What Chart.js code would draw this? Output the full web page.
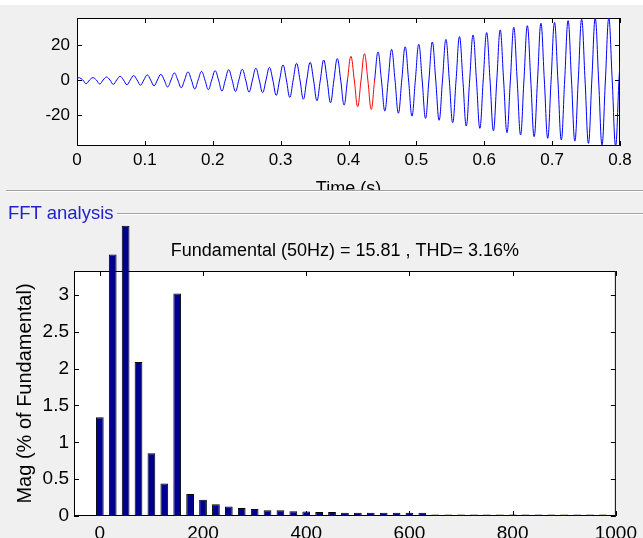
<!DOCTYPE html>
<html>
<head>
<meta charset="utf-8">
<script src="https://cdn.jsdelivr.net/npm/chart.js@4.4.1/dist/chart.umd.min.js"></script>
<style>
  body { margin: 0; background: #f0f0f0; width: 643px; height: 538px; overflow: hidden; position: relative; font-family: "Liberation Sans", Arial, sans-serif; }
  .abs { position: absolute; }
  .etch { position: absolute; height: 0; border-top: 1px solid #a0a0a0; border-bottom: 1px solid #ffffff; }
</style>
</head>
<body>
<div class="abs" style="left:0;top:0;width:643px;height:5px;background:#fff"></div>
<div class="abs" style="left:0;top:0;width:643px;height:190px;overflow:hidden">
  <canvas id="signal" width="643" height="200"></canvas>
</div>
<div class="etch" style="left:6px;top:190px;width:637px"></div>
<div class="abs" style="left:0;top:192px;width:643px;height:346px;overflow:hidden">
  <canvas id="fft" width="643" height="346"></canvas>
</div>
<div class="abs" style="left:8px;top:203px;font-size:18.5px;color:#2222cc;line-height:20px">FFT analysis</div>
<div class="etch" style="left:117px;top:213px;width:526px"></div>

<script>
// selected signal: positive and negative peak of each 50 Hz cycle
const peakVals = [1.3, 1.3, 1.7, 2.1, 2.5, 2.9, 3.2, 4.0, 4.6, 4.9,
  5.3, 5.9, 6.1, 6.7, 7.2, 8.6, 9.5, 10.1, 11.4, 12.2,
  13.5, 15.0, 16.0, 17.5, 19.0, 20.4, 21.7, 23.2, 24.8, 25.7,
  27.1, 28.6, 30.1, 31.0, 32.4, 32.9, 33.9, 34.7, 35.2, 35.4];
const troughVals = [-2.1, -2.3, -2.5, -2.7, -3.0, -3.3, -4.0, -4.4, -5.1, -5.5,
  -6.3, -6.5, -6.9, -7.2, -8.8, -9.9, -11.0, -11.8, -13.0, -14.3,
  -15.2, -16.8, -17.7, -19.0, -20.6, -21.9, -23.0, -24.4, -26.3, -27.6,
  -29.0, -30.1, -31.4, -32.4, -33.3, -34.3, -34.9, -36.2, -37.1, -37.7];
const startVal = 1.0;
const endVal = 10;
const fftWindow = [0.4, 0.44];   // red part
const timeTicks = [0, 0.1, 0.2, 0.3, 0.4, 0.5, 0.6, 0.7, 0.8];
const signalTicks = [-20, 0, 20];

// harmonic spectrum
const harmFreqs = [0, 25, 50, 75, 100, 125, 150, 175, 200, 225,
  250, 275, 300, 325, 350, 375, 400, 425, 450, 475,
  500, 525, 550, 575, 600, 625, 650, 675, 700, 725,
  750, 775, 800, 825, 850, 875, 900, 925, 950, 975];
const harmMags = [1.34, 3.55, 3.94, 2.09, 0.85, 0.44, 3.02, 0.30, 0.22, 0.16,
  0.13, 0.11, 0.095, 0.078, 0.078, 0.064, 0.06, 0.055, 0.055, 0.045,
  0.045, 0.045, 0.045, 0.045, 0.045, 0.045, 0.02, 0.02, 0.02, 0.02,
  0.02, 0.02, 0.02, 0.02, 0.02, 0.02, 0.02, 0.02, 0.02, 0.02];
const freqTicks = [0, 200, 400, 600, 800, 1000];
const magTicks = [0, 0.5, 1, 1.5, 2, 2.5, 3];

// one point at each peak, zero crossing and trough
const period = 0.02;
const sigPoints = [{ x: 0, y: startVal }];
peakVals.forEach((p, k) => {
  const t0 = k * period;
  sigPoints.push({ x: t0 + 0.0035, y: p });
  sigPoints.push({ x: t0 + 0.0085, y: 0 });
  sigPoints.push({ x: t0 + 0.0135, y: troughVals[k] });
  sigPoints.push({ x: t0 + 0.0185, y: 0 });
});
sigPoints.push({ x: 0.8, y: endVal });

// white plot area, black box and inward ticks (matlab look)
const axesBox = {
  id: 'axesBox',
  beforeDatasetsDraw(chart) {
    const { ctx, chartArea: a, scales } = chart;
    ctx.save();
    ctx.fillStyle = '#fff';
    ctx.fillRect(a.left, a.top, a.right - a.left, a.bottom - a.top);
    ctx.strokeStyle = '#000';
    ctx.lineWidth = 1;
    ctx.strokeRect(a.left + 0.5, a.top + 0.5, a.right - a.left - 1, a.bottom - a.top - 1);
    ctx.beginPath();
    scales.x.ticks.forEach(t => {
      const px = Math.round(scales.x.getPixelForValue(t.value)) + 0.5;
      ctx.moveTo(px, a.bottom); ctx.lineTo(px, a.bottom - 5);
      ctx.moveTo(px, a.top); ctx.lineTo(px, a.top + 5);
    });
    scales.y.ticks.forEach(t => {
      const py = Math.round(scales.y.getPixelForValue(t.value)) + 0.5;
      ctx.moveTo(a.left, py); ctx.lineTo(a.left + 5, py);
      ctx.moveTo(a.right, py); ctx.lineTo(a.right - 5, py);
    });
    ctx.stroke();
    ctx.restore();
  }
};

Chart.defaults.font.family = '"Liberation Sans", Arial, sans-serif';
Chart.defaults.color = '#000';
Chart.defaults.animation = false;

const setTicks = list => scale => { scale.ticks = list.map(v => ({ value: v })); };
const noGrid = { display: false, drawTicks: false };

new Chart(document.getElementById('signal'), {
  type: 'line',
  data: {
    datasets: [{
      data: sigPoints,
      borderColor: '#0000ff',
      borderWidth: 1,
      pointRadius: 0,
      tension: 0.4,
      segment: {
        borderColor: c => {
          const mid = (c.p0.parsed.x + c.p1.parsed.x) / 2;
          return mid > fftWindow[0] && mid < fftWindow[1] ? '#ff0000' : '#0000ff';
        }
      }
    }]
  },
  options: {
    responsive: false,
    layout: { padding: { left: 0, right: 23, top: 18, bottom: 0 } },
    plugins: { legend: { display: false }, tooltip: { enabled: false } },
    scales: {
      x: {
        type: 'linear', min: 0, max: 0.8,
        grid: noGrid,
        border: { display: false },
        afterBuildTicks: setTicks(timeTicks),
        afterFit: s => { s.height = 54; },
        ticks: { font: { size: 17 }, padding: 4, maxRotation: 0, callback: v => String(v) },
        title: { display: true, text: 'Time (s)', font: { size: 18 }, padding: { top: 3, bottom: 0 } }
      },
      y: {
        min: -37.7, max: 35.4,
        grid: noGrid,
        border: { display: false },
        afterBuildTicks: setTicks(signalTicks),
        afterFit: s => { s.width = 77; },
        ticks: { font: { size: 17 }, padding: 7, callback: v => String(v) }
      }
    }
  },
  plugins: [axesBox]
});

new Chart(document.getElementById('fft'), {
  type: 'bar',
  data: {
    datasets: [{
      data: harmFreqs.map((f, i) => ({ x: f, y: harmMags[i] })),
      backgroundColor: '#00008f',
      borderColor: '#000',
      borderWidth: 1,
      barPercentage: 0.6,
      categoryPercentage: 1,
      clip: false
    }]
  },
  options: {
    responsive: false,
    layout: { padding: { left: 0, right: 22, top: 79, bottom: 0 } },
    plugins: {
      legend: { display: false },
      tooltip: { enabled: false },
      title: { display: false }
    },
    scales: {
      x: {
        type: 'linear', min: -50, max: 1000, offset: false,
        grid: noGrid,
        border: { display: false },
        afterBuildTicks: setTicks(freqTicks),
        afterFit: s => { s.height = 22; },
        ticks: { font: { size: 19 }, padding: 6, maxRotation: 0, callback: v => String(v) }
      },
      y: {
        min: 0, max: 3.325,
        grid: noGrid,
        border: { display: false },
        afterBuildTicks: setTicks(magTicks),
        afterFit: s => { s.width = 74; },
        ticks: { font: { size: 19 }, padding: 5, callback: v => String(v) },
        title: { display: true, text: 'Mag (% of Fundamental)', font: { size: 20 }, padding: { top: 13, bottom: 0 } }
      }
    }
  },
  plugins: [axesBox, {
    id: 'fftTitle',
    afterDraw(chart) {
      const { ctx, chartArea: a } = chart;
      ctx.save();
      ctx.font = '18px "Liberation Sans", Arial, sans-serif';
      ctx.fillStyle = '#000';
      ctx.textAlign = 'center';
      ctx.textBaseline = 'middle';
      ctx.fillText('Fundamental (50Hz) = 15.81 , THD= 3.16%', (a.left + a.right) / 2, a.top - 20);
      ctx.restore();
    }
  }]
});
</script>
</body>
</html>
